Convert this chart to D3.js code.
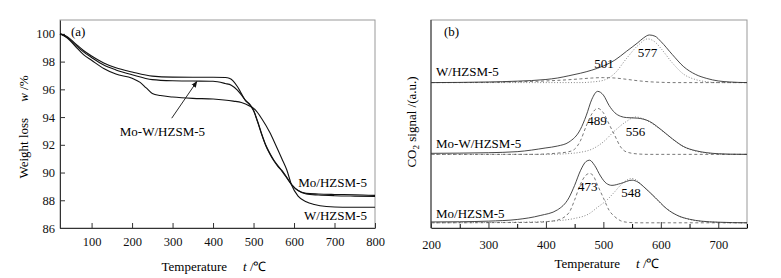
<!DOCTYPE html>
<html>
<head>
<meta charset="utf-8">
<script src="https://cdn.jsdelivr.net/npm/d3@7"></script>
<style>
  body { margin: 0; background: #fff; }
  svg { font-family: "Liberation Serif", "Times New Roman", serif; }
</style>
</head>
<body>
<svg width="781" height="278"></svg>
<script>
// ---- panel (a): TG curves, [temperature, weight %]
const tgMo = [[22,100],[40,99.8],[60,99.3],[80,98.8],[100,98.4],[130,97.9],[160,97.55],[200,97.25],[250,96.95],[300,96.88],[350,96.87],[400,96.87],[430,96.85],[440,96.8],[450,96.6],[460,96.2],[470,95.7],[480,95.2],[490,94.95],[500,94.5],[510,93.7],[520,92.8],[530,92.0],[540,91.4],[550,90.9],[560,90.5],[570,90.15],[580,89.75],[595,89.1],[610,88.7],[630,88.5],[660,88.45],[700,88.42],[750,88.4],[800,88.35]];
const tgMoW = [[22,100],[40,99.75],[60,99.2],[80,98.7],[100,98.3],[130,97.75],[160,97.4],[200,97.05],[250,96.7],[300,96.62],[350,96.6],[400,96.58],[430,96.42],[445,96.3],[460,95.95],[470,95.6],[480,95.2],[490,94.9],[500,94.45],[510,93.65],[520,92.75],[530,91.95],[540,91.35],[550,90.85],[560,90.45],[570,90.1],[580,89.7],[595,89.1],[610,88.7],[630,88.45],[660,88.38],[700,88.33],[750,88.3],[800,88.28]];
const tgW = [[22,100],[40,99.7],[60,99.1],[80,98.5],[100,98.1],[130,97.5],[160,97.1],[200,96.8],[220,96.5],[235,96.1],[250,95.7],[270,95.55],[300,95.45],[350,95.35],[400,95.3],[450,95.15],[470,95.05],[490,94.8],[505,94.5],[520,93.9],[540,92.9],[553,92.1],[570,91.0],[582,90.2],[594,89.1],[610,88.3],[630,87.9],[650,87.7],[680,87.55],[720,87.5],[800,87.5]];
const tgXTicks = [100, 200, 300, 400, 500, 600, 700, 800];
const tgYTicks = [86, 88, 90, 92, 94, 96, 98, 100];

// ---- panel (b): CO2-TPD, [temperature, signal a.u.] per sample: total, low-T peak, high-T peak
const tpdW = [[200,0],[250,0.1],[300,0.3],[350,0.7],[400,1.5],[420,2.2],[440,3.3],[460,4.5],[480,6.0],[500,8.0],[520,10.8],[540,15.0],[560,19.2],[570,21.5],[580,22.9],[590,22.3],[600,19.8],[620,13.5],[640,7.6],[660,4.0],[680,2.0],[700,0.8],[720,0.3],[750,0]];
const tpdWLow = [[200,0],[300,0.1],[350,0.4],[400,0.8],[440,1.4],[460,1.8],[480,2.2],[500,2.4],[520,2.2],[540,1.6],[560,0.9],[580,0.4],[600,0.15],[620,0],[750,0]];
const tpdWHigh = [[200,0],[460,0],[480,0.3],[500,1.1],[520,4.5],[540,11.5],[560,17.8],[577,21.0],[590,19.5],[600,16.5],[620,9.5],[640,4.0],[660,1.5],[680,0.4],[700,0],[750,0]];
const tpdMoW = [[200,0.5],[250,0.6],[300,0.8],[350,1.3],[400,3.1],[420,4.0],[440,5.9],[460,12],[470,18.5],[480,26.5],[490,30.3],[500,28.5],[510,23.5],[520,20.0],[530,18.3],[540,17.7],[560,17.4],[580,15.9],[600,12.0],[620,7.5],[640,3.7],[660,1.8],[680,0.8],[700,0.3],[720,0.1],[750,0]];
const tpdMoWLow = [[200,0],[380,0],[400,0.2],[420,0.6],[440,1.3],[450,2.5],[460,6.5],[470,13.5],[480,19.5],[490,22.1],[500,20.0],[510,14.5],[520,9.0],[530,3.6],[540,1.2],[560,0.2],[580,0],[750,0]];
const tpdMoWHigh = [[200,0],[400,0],[420,0.1],[440,0.4],[460,1.0],[480,2.5],[500,6.0],[520,11.4],[540,15.8],[556,18.0],[570,17.0],[580,15.6],[600,11.8],[620,7.4],[640,3.6],[660,1.6],[680,0.6],[700,0.2],[720,0],[750,0]];
const tpdMo = [[200,0.4],[250,0.5],[300,0.8],[350,1.6],[390,3.5],[420,6.2],[440,12.0],[450,18.0],[460,25.0],[470,29.5],[476,30.1],[485,27.5],[495,22.5],[505,19.0],[515,18.0],[530,18.9],[550,20.5],[560,19.6],[570,17.4],[590,12.2],[610,6.8],[630,3.4],[650,1.7],[670,0.8],[700,0.3],[750,0]];
const tpdMoLow = [[200,0],[380,0.2],[400,0.5],[420,1.3],[440,4.8],[450,11],[460,18.5],[470,23],[476,23.7],[482,22.8],[490,18.0],[500,12.0],[510,6.0],[520,2.9],[530,1.0],[540,0.3],[560,0],[750,0]];
const tpdMoHigh = [[200,0],[360,0.3],[390,0.5],[420,1.0],[448,2.0],[476,4.5],[490,7.5],[506,10.9],[520,15.0],[530,18.1],[550,21.3],[560,20.0],[570,17.3],[590,12.0],[610,6.8],[630,3.4],[650,1.6],[670,0.7],[700,0.2],[720,0],[750,0]];
const tpdNames = ["Mo/HZSM-5", "Mo-W/HZSM-5", "W/HZSM-5"];
const tpdOffsets = [2.5, 35.4, 69.9];
// peak labels: [sample index, temperature, label height above baseline]
const tpdPeaks = [[2, 501, 9.3], [2, 577, 14.3], [1, 489, 16.5], [1, 556, 11.2], [0, 473, 17.3], [0, 548, 14.8]];
const tpdXTicks = [200, 300, 400, 500, 600, 700];
const tpdXMinor = [250, 350, 450, 550, 650, 750];

const svg = d3.select("svg");
const plotTop = 20, plotBottom = 228;

// ================= panel (a)
const xL = d3.scaleLinear().domain([22, 800]).range([60, 375]);
const yL = d3.scaleLinear().domain([86, 101]).range([plotBottom, plotTop]);

svg.append("rect")
  .attr("x", 60).attr("y", plotTop).attr("width", 315).attr("height", plotBottom - plotTop)
  .attr("fill", "none").attr("stroke", "#999");

const gxL = svg.append("g")
  .attr("transform", `translate(0,${plotBottom})`)
  .call(d3.axisBottom(xL).tickValues(tgXTicks).tickSizeInner(-5).tickSizeOuter(0).tickPadding(9));
const gyL = svg.append("g")
  .attr("transform", `translate(60,0)`)
  .call(d3.axisLeft(yL).tickValues(tgYTicks).tickSizeInner(-5).tickSizeOuter(0).tickPadding(5));

const tgLine = d3.line().x(d => xL(d[0])).y(d => yL(d[1])).curve(d3.curveMonotoneX);
[tgMo, tgMoW, tgW].forEach(s => {
  svg.append("path").attr("d", tgLine(s))
    .attr("fill", "none").attr("stroke", "#111").attr("stroke-width", 1.1);
});

// arrow
svg.append("defs").append("marker")
  .attr("id", "arr").attr("viewBox", "0 0 10 10").attr("refX", 9).attr("refY", 5)
  .attr("markerWidth", 7).attr("markerHeight", 7).attr("orient", "auto")
  .append("path").attr("d", "M0,1 L10,5 L0,9 Z").attr("fill", "#111");
svg.append("line")
  .attr("x1", xL(298)).attr("y1", yL(93.92)).attr("x2", xL(360)).attr("y2", yL(96.56))
  .attr("stroke", "#111").attr("stroke-width", 0.9).attr("marker-end", "url(#arr)");

svg.append("text").attr("x", xL(275)).attr("y", yL(92.95)).attr("dy", "0.35em")
  .attr("text-anchor", "middle").attr("font-size", 13).text("Mo-W/HZSM-5");
svg.append("text").attr("x", xL(780)).attr("y", yL(89.27)).attr("dy", "0.35em")
  .attr("text-anchor", "end").attr("font-size", 13).text("Mo/HZSM-5");
svg.append("text").attr("x", xL(780)).attr("y", yL(86.94)).attr("dy", "0.35em")
  .attr("text-anchor", "end").attr("font-size", 13).text("W/HZSM-5");
svg.append("text").attr("x", 71).attr("y", 36).attr("font-size", 13).text("(a)");

const xtL = svg.append("text").attr("x", 214).attr("y", 271).attr("text-anchor", "middle").attr("font-size", 13);
xtL.append("tspan").text("Temperature");
xtL.append("tspan").attr("dx", 16).attr("font-style", "italic").text("t");
xtL.append("tspan").text(" /℃");

const ytL = svg.append("text").attr("transform", "translate(28,127) rotate(-90)")
  .attr("text-anchor", "middle").attr("font-size", 13);
ytL.append("tspan").text("Weight loss");
ytL.append("tspan").attr("dx", 16).attr("font-style", "italic").text("w");
ytL.append("tspan").text(" /%");

// ================= panel (b)
const xR = d3.scaleLinear().domain([200, 750]).range([431, 747]);
const yR = d3.scaleLinear().domain([0, 100]).range([plotBottom, plotTop]);

svg.append("rect")
  .attr("x", 431).attr("y", plotTop).attr("width", 316).attr("height", plotBottom - plotTop)
  .attr("fill", "none").attr("stroke", "#999");

const gxR = svg.append("g")
  .attr("transform", `translate(0,${plotBottom})`)
  .call(d3.axisBottom(xR).tickValues(tpdXTicks).tickSizeInner(-6).tickSizeOuter(0).tickPadding(12));
svg.append("g")
  .attr("transform", `translate(0,${plotBottom})`)
  .call(d3.axisBottom(xR).tickValues(tpdXMinor).tickSizeInner(-4).tickSizeOuter(0).tickFormat(""))
  .select(".domain").remove();
svg.append("line").attr("x1", 431).attr("x2", 431).attr("y1", plotTop).attr("y2", plotBottom)
  .attr("stroke", "#333");

[gxL, gyL, gxR].forEach(g => {
  g.select(".domain").attr("stroke", "#333");
  g.selectAll(".tick line").attr("stroke", "#333");
  g.selectAll(".tick text").attr("font-size", 12.5).attr("fill", "#111")
    .attr("font-family", "Liberation Serif, serif");
});

const tpdSets = [[tpdMo, tpdMoLow, tpdMoHigh], [tpdMoW, tpdMoWLow, tpdMoWHigh], [tpdW, tpdWLow, tpdWHigh]];
const styles = [
  { dash: null, color: "#333", w: 0.9 },
  { dash: "3,2.5", color: "#555", w: 0.8 },
  { dash: "1,1.8", color: "#666", w: 0.8 }
];
tpdSets.forEach((set, i) => {
  const off = tpdOffsets[i];
  const ln = d3.line().x(d => xR(d[0])).y(d => yR(off + d[1])).curve(d3.curveMonotoneX);
  // draw components first, total on top
  [2, 1, 0].forEach(k => {
    svg.append("path").attr("d", ln(set[k]))
      .attr("fill", "none").attr("stroke", styles[k].color)
      .attr("stroke-width", styles[k].w)
      .attr("stroke-dasharray", styles[k].dash);
  });
});

svg.selectAll(".peak").data(tpdPeaks).join("text")
  .attr("class", "peak")
  .attr("x", d => xR(d[1])).attr("y", d => yR(tpdOffsets[d[0]] + d[2]))
  .attr("dy", "0.35em").attr("text-anchor", "middle").attr("font-size", 13)
  .text(d => d[1]);

const nameY = [5.0, 38.5, 73.0];
tpdNames.forEach((n, i) => {
  svg.append("text").attr("x", 436).attr("y", yR(nameY[i]))
    .attr("font-size", 13).text(n);
});
svg.append("text").attr("x", 444).attr("y", 36).attr("font-size", 13).text("(b)");

const xtR = svg.append("text").attr("x", 607).attr("y", 268).attr("text-anchor", "middle").attr("font-size", 13);
xtR.append("tspan").text("Temperature");
xtR.append("tspan").attr("dx", 16).attr("font-style", "italic").text("t");
xtR.append("tspan").text(" /℃");

const ytR = svg.append("text").attr("transform", "translate(416,122) rotate(-90)")
  .attr("text-anchor", "middle").attr("font-size", 13);
ytR.append("tspan").text("CO");
ytR.append("tspan").attr("font-size", 9).attr("dy", 3).text("2");
ytR.append("tspan").attr("dy", -3).text(" signal /(a.u.)");
</script>
</body>
</html>
